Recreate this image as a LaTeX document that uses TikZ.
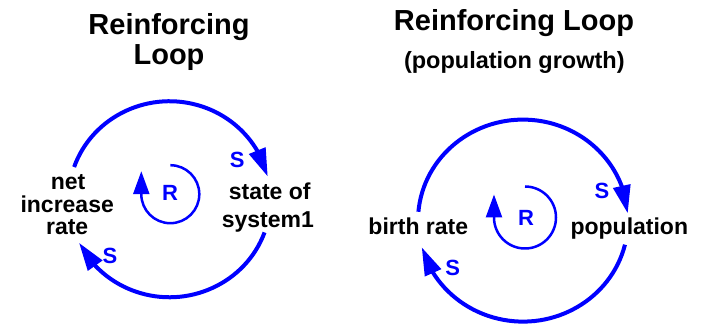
\documentclass[tikz,border=0pt]{standalone}
\usepackage{fontspec}
\setmainfont{Liberation Sans}
\usetikzlibrary{arrows.meta,bending,calc}
\definecolor{loopblue}{RGB}{0,0,255}
\tikzset{
  titletext/.style={anchor=base, inner sep=0pt, font=\fontsize{29}{30}\selectfont\bfseries},
  subtext/.style={anchor=base, inner sep=0pt, font=\fontsize{23.5}{24}\selectfont\bfseries},
  vartext/.style={anchor=base, inner sep=0pt, font=\fontsize{23}{24}\selectfont\bfseries},
  signtext/.style={inner sep=0pt, text=loopblue, font=\fontsize{22}{22}\selectfont\bfseries},
  rtext/.style={inner sep=0pt, text=loopblue, font=\fontsize{22}{22}\selectfont\bfseries},
  link/.style={draw=loopblue, line width=4pt, -{Triangle[length=28pt,width=17pt,flex]}},
  loopsym/.style={draw=loopblue, line width=2.5pt, -{Triangle[length=23pt,width=16pt]}},
}
\begin{document}
\begin{tikzpicture}[x=1pt,y=1pt]
\useasboundingbox (0,0) rectangle (712,329);
% ---------- left diagram ----------
\node[titletext] (t1a) at (169,294) {Reinforcing};
\node[titletext] (t1b) at (169,264) {Loop};
\coordinate (c1) at (169.5,129.75);
\coordinate (r1) at (170.3,134.8);
\node[vartext] (net1) at (68,139.7) {net};
\node[vartext] (net2) at (67.2,116.7) {increase};
\node[vartext] (net3) at (67.2,94) {rate};
\node[vartext] (st1) at (269.7,129.7) {state of};
\node[vartext] (st2) at (267.8,101.3) {system1};
\draw[link] ($(c1)+(160.8:101 and 98)$) arc[start angle=160.8, end angle=13.4, x radius=101, y radius=98];
\draw[link] ($(c1)+(-19.8:101 and 98)$) arc[start angle=-19.8, end angle=-153.6, x radius=101, y radius=98];
\node[signtext] (s1a) at (237.3,169) {S};
\node[signtext] (s1b) at (110,73) {S};
\draw[loopsym] ($(r1)+(0,29)$) arc[start angle=90, end angle=-180, radius=29] -- ++(0,23);
\node[rtext] (R1) at (170,135.7) {R};
% ---------- right diagram ----------
\node[titletext] (t2a) at (514,298.3) {Reinforcing Loop};
\node[subtext] (t2b) at (514.3,260.7) {(population growth)};
\coordinate (c2) at (523,108.4);
\coordinate (r2) at (525,111.5);
\node[vartext] (br) at (418.3,94) {birth rate};
\node[vartext] (pop) at (629.3,94) {population};
\draw[link] ($(c2)+(175:105 and 101)$) arc[start angle=175, end angle=4.1, x radius=105, y radius=101];
\draw[link] ($(c2)+(-13.8:105 and 101)$) arc[start angle=-13.8, end angle=-164.7, x radius=105, y radius=101];
\node[signtext] (s2a) at (602,138.3) {S};
\node[signtext] (s2b) at (452.7,60.7) {S};
\draw[loopsym] ($(r2)+(0,31)$) arc[start angle=90, end angle=-180, radius=31] -- ++(0,23);
\node[rtext] (R2) at (526,110.7) {R};
\end{tikzpicture}
\end{document}
